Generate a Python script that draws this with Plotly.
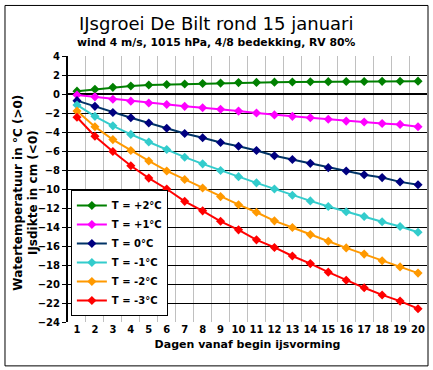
import plotly.graph_objects as go

days = list(range(1, 21))
series_names = ["T = +2°C", "T = +1°C", "T = 0°C", "T = -1°C", "T = -2°C", "T = -3°C"]
t_plus2 = [0.3, 0.5, 0.7, 0.85, 0.95, 1.0, 1.05, 1.1, 1.15, 1.2, 1.22, 1.25, 1.27, 1.29, 1.3, 1.31, 1.32, 1.33, 1.34, 1.35]
t_plus1 = [-0.1, -0.3, -0.55, -0.75, -0.95, -1.1, -1.3, -1.45, -1.6, -1.8, -2.0, -2.2, -2.35, -2.5, -2.65, -2.85, -2.95, -3.1, -3.2, -3.45]
t_zero = [-0.7, -1.3, -1.95, -2.5, -3.05, -3.6, -4.15, -4.6, -5.1, -5.5, -5.95, -6.5, -6.9, -7.3, -7.75, -8.1, -8.5, -8.8, -9.25, -9.55]
t_min1 = [-1.15, -2.35, -3.35, -4.25, -5.05, -5.85, -6.65, -7.35, -8.05, -8.7, -9.35, -10.0, -10.65, -11.25, -11.85, -12.4, -12.9, -13.45, -13.95, -14.55]
t_min2 = [-1.8, -3.45, -4.8, -5.95, -7.05, -8.1, -9.0, -9.9, -10.8, -11.65, -12.45, -13.35, -14.05, -14.8, -15.5, -16.2, -16.85, -17.55, -18.2, -18.85]
t_min3 = [-2.45, -4.45, -6.05, -7.55, -8.85, -10.0, -11.3, -12.3, -13.4, -14.3, -15.35, -16.15, -17.05, -17.85, -18.75, -19.6, -20.4, -21.15, -21.8, -22.6]
series_values = [t_plus2, t_plus1, t_zero, t_min1, t_min2, t_min3]
line_colors = ["#008000", "#ff00ff", "#003366", "#33cccc", "#ff9900", "#ff0000"]
marker_colors = ["#008000", "#ff00ff", "#000080", "#33cccc", "#ff9900", "#ff0000"]
y_ticks = list(range(-24, 5, 2))

FONT = "DejaVu Sans"

fig = go.Figure()
for name, vals, lc, mc in zip(series_names, series_values, line_colors, marker_colors):
    fig.add_trace(go.Scatter(
        x=days, y=vals, name=name, mode="lines+markers",
        line=dict(color=lc, width=2),
        marker=dict(color=mc, symbol="diamond", size=7),
    ))

boundaries = [d + 0.5 for d in days[:-1]]

fig.update_layout(
    width=433, height=370,
    margin=dict(l=68, r=6, t=56, b=48),
    paper_bgcolor="white", plot_bgcolor="white",
    font=dict(family=FONT, size=10, color="black", weight="bold"),
    showlegend=True,
    legend=dict(
        x=0.008, y=0.0226, xanchor="left", yanchor="bottom",
        bgcolor="white", bordercolor="black", borderwidth=1,
        font=dict(family=FONT, size=10, color="black", weight="bold"),
        tracegroupgap=0, itemwidth=30,
    ),
    xaxis=dict(
        range=[days[0] - 0.5, days[-1] + 0.5],
        tickvals=days, ticktext=[str(d) for d in days],
        showgrid=False, zeroline=False, showline=False, ticks="",
        minor=dict(tickvals=boundaries, showgrid=True, gridcolor="#c0c0c0", gridwidth=1, ticks=""),
        title=dict(text="Dagen vanaf begin ijsvorming", standoff=6,
                   font=dict(family=FONT, size=11, weight="bold")),
        tickfont=dict(family=FONT, size=10, weight="bold"),
    ),
    yaxis=dict(
        range=[-24, 4], tickvals=y_ticks,
        showgrid=True, gridcolor="black", gridwidth=1,
        zeroline=True, zerolinecolor="black", zerolinewidth=2,
        showline=True, linecolor="black", linewidth=2,
        ticks="outside", ticklen=4, tickcolor="black",
        tickfont=dict(family=FONT, size=10, weight="bold"),
    ),
    annotations=[
        dict(text="IJsgroei De Bilt rond 15 januari", xref="paper", yref="paper",
             x=0.413, y=1.124, xanchor="center", yanchor="middle", showarrow=False,
             font=dict(family=FONT, size=18, weight="normal")),
        dict(text="wind 4 m/s, 1015 hPa, 4/8 bedekking, RV 80%", xref="paper", yref="paper",
             x=0.413, y=1.049, xanchor="center", yanchor="middle", showarrow=False,
             font=dict(family=FONT, size=10.8, weight="bold")),
        dict(text="Watertemperatuur in °C (>0)<br>IJsdikte in cm (<0)", xref="paper", yref="paper",
             x=-0.118, y=0.485, xanchor="center", yanchor="middle", showarrow=False,
             textangle=-90, font=dict(family=FONT, size=12, weight="bold")),
    ],
    shapes=[
        dict(type="rect", xref="paper", yref="paper", x0=-0.1755, x1=1.0028, y0=-0.165, y1=1.19,
             line=dict(color="black", width=1), fillcolor="rgba(0,0,0,0)", layer="below"),
    ],
)

fig.write_html("out.html", config={"displayModeBar": False},
               post_script="document.body.style.margin='0';")
